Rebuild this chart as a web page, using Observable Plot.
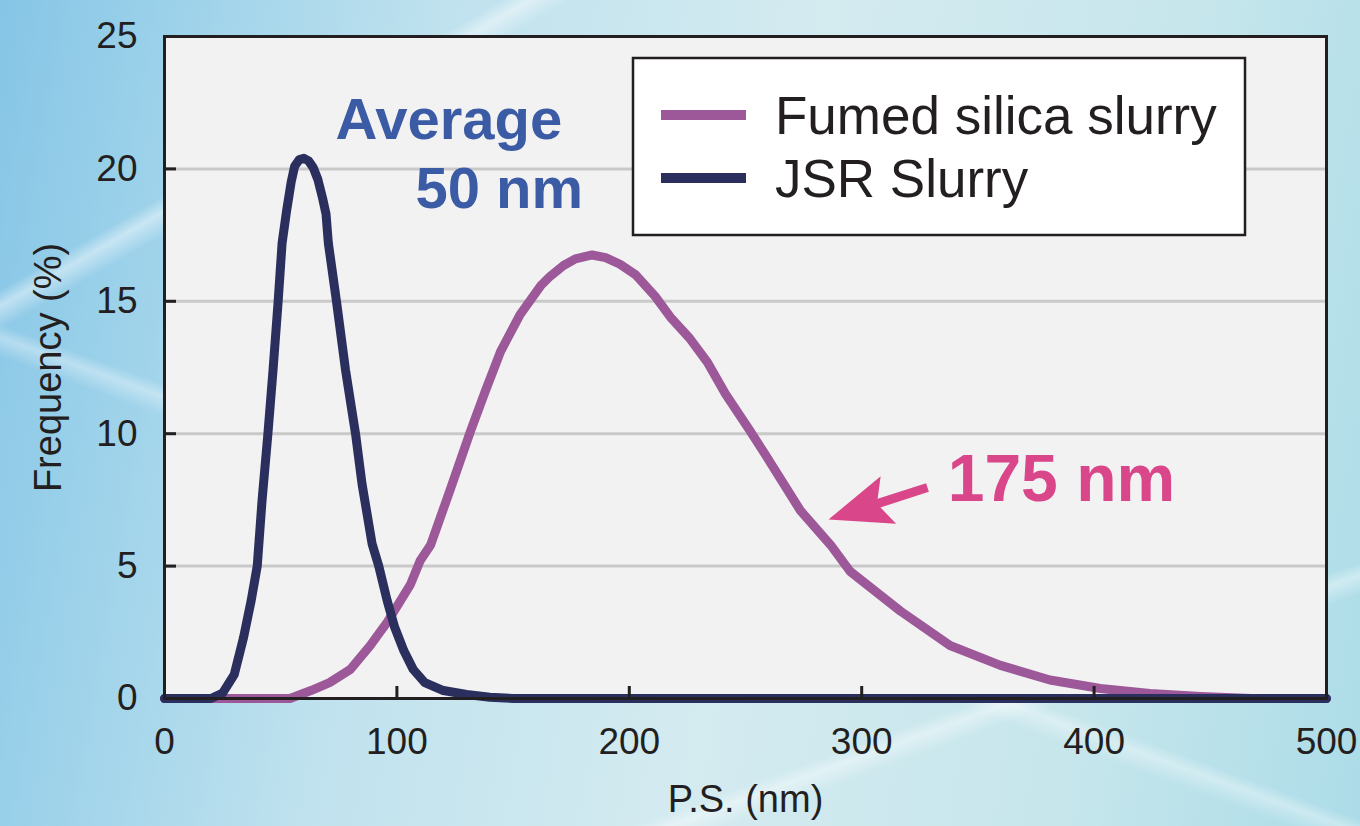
<!DOCTYPE html>
<html>
<head>
<meta charset="utf-8">
<script src="https://cdn.jsdelivr.net/npm/d3@7"></script>
<script src="https://cdn.jsdelivr.net/npm/@observablehq/plot@0.6"></script>
<style>
  html, body { margin: 0; padding: 0; }
  body {
    width: 1360px; height: 826px; overflow: hidden; position: relative;
    font-family: "Liberation Sans", Arial, sans-serif;
    background:
      linear-gradient(150deg, rgba(255,255,255,0) 18%, rgba(255,255,255,0.45) 19%, rgba(255,255,255,0) 20.5%),
      linear-gradient(200deg, rgba(255,255,255,0) 62%, rgba(255,255,255,0.35) 63%, rgba(255,255,255,0) 64.5%),
      linear-gradient(160deg, rgba(255,255,255,0) 80%, rgba(255,255,255,0.4) 81%, rgba(255,255,255,0) 82.5%),
      linear-gradient(100deg, #86c5e6 0%, #9dd2ea 12%, #c0e2ee 30%, #d4ebf0 55%, #c6e6ec 80%, #acdce8 100%);
  }
  #chart { position: absolute; left: 0; top: 0; }
  #legend { position: absolute; left: 0; top: 0; pointer-events: none; }
</style>
</head>
<body>
<div id="chart"></div>
<svg id="legend" width="1360" height="826"></svg>
<script>
// ---- data ----
const xTicks = [0, 100, 200, 300, 400, 500];
const yTicks = [0, 5, 10, 15, 20, 25];
const gridValues = [5, 10, 15, 20];
const xLabel = "P.S. (nm)";
const yLabel = "Frequency (%)";

const seriesNames = ["Fumed silica slurry", "JSR Slurry"];
const seriesColors = ["#9c5898", "#2b2f5e"];

const fumedX = [0, 54, 63, 71, 80, 88.5, 96, 105.8, 110, 114.5, 123, 131.7, 138, 144.6, 153, 162, 166, 171.7, 176.8, 184, 189.8, 196, 202.7, 211, 217.7, 226, 233.6, 241.4, 252, 258.6, 273.6, 286.6, 295, 316.7, 338, 359.7, 381, 402.7, 424, 446, 467.6, 500];
const fumedY = [0, 0, 0.3, 0.6, 1.1, 2.0, 2.9, 4.3, 5.2, 5.8, 7.9, 10.1, 11.6, 13.1, 14.5, 15.6, 15.95, 16.35, 16.6, 16.75, 16.65, 16.4, 16.0, 15.2, 14.4, 13.6, 12.7, 11.5, 10.1, 9.2, 7.1, 5.8, 4.8, 3.3, 2.0, 1.25, 0.7, 0.38, 0.19, 0.08, 0, 0];

const jsrX = [0, 20, 25, 30, 34, 37.3, 39.9, 42, 44.5, 46.7, 48.9, 50.6, 52.5, 54.5, 56, 58, 60, 62, 64, 66, 68, 69.5, 70.5, 74, 77.9, 82.2, 85, 89.3, 92.2, 95.8, 99, 103, 107, 112, 120, 130, 140, 150, 500];
const jsrY = [0, 0, 0.2, 0.9, 2.3, 3.7, 5.0, 7.5, 10.0, 12.4, 15.0, 17.2, 18.4, 19.5, 20.1, 20.35, 20.4, 20.3, 20.05, 19.6, 18.9, 18.3, 17.2, 15.0, 12.4, 10.0, 8.1, 5.85, 5.0, 3.7, 2.7, 1.8, 1.1, 0.6, 0.3, 0.15, 0.05, 0, 0];

const avgText = ["Average", "50 nm"];
const avgX = [73.6, 108];
const avgY = [21.83, 19.22];
const peakText = ["175 nm"];
const peakX = [337];
const peakY = [8.27];
const arrowFrom = [328.3, 7.97];
const arrowTo = [285.7, 6.76];

// ---- build ----
const fumed = fumedX.map((x, i) => ({x, y: fumedY[i]}));
const jsr = jsrX.map((x, i) => ({x, y: jsrY[i]}));
const avg = avgText.map((t, i) => ({t, x: avgX[i], y: avgY[i]}));
const peak = peakText.map((t, i) => ({t, x: peakX[i], y: peakY[i]}));
const arrow = [{x1: arrowFrom[0], y1: arrowFrom[1], x2: arrowTo[0], y2: arrowTo[1]}];

const ink = "#231f20";
const pink = "#d9478a";
const blue = "#3b5ba5";

const stealth = {
  draw(ctx) {
    const L = 63, w = 25, n = 51;
    ctx.moveTo(0, 0);
    ctx.lineTo(w, L);
    ctx.lineTo(0, n);
    ctx.lineTo(-w, L);
    ctx.closePath();
  }
};

const chart = Plot.plot({
  width: 1360,
  height: 826,
  marginLeft: 164,
  marginRight: 34,
  marginTop: 36,
  marginBottom: 128,
  style: {background: "transparent", fontFamily: "'Liberation Sans', Arial, sans-serif", fontSize: "37px", color: ink},
  x: {domain: [0, 500]},
  y: {domain: [0, 25]},
  marks: [
    Plot.frame({fill: "#f2f2f2"}),
    Plot.gridY(gridValues, {stroke: "#c9c9c9", strokeOpacity: 1, strokeWidth: 3}),
    Plot.line(fumed, {x: "x", y: "y", stroke: seriesColors[0], strokeWidth: 9, strokeLinejoin: "round"}),
    Plot.line(jsr, {x: "x", y: "y", stroke: seriesColors[1], strokeWidth: 9, strokeLinejoin: "round"}),
    Plot.frame({stroke: ink, strokeWidth: 3}),
    Plot.axisX(xTicks, {tickSize: -12, tickPadding: 41, strokeWidth: 3, stroke: ink, fill: ink, label: null}),
    Plot.axisY(yTicks, {tickSize: -12, tickPadding: 39, strokeWidth: 3, stroke: ink, fill: ink, label: null}),
    Plot.text([xLabel], {frameAnchor: "bottom", lineAnchor: "middle", textAnchor: "middle", dy: 101, fontSize: 38, fill: ink}),
    Plot.text([yLabel], {frameAnchor: "left", lineAnchor: "middle", textAnchor: "middle", rotate: -90, dx: -116, fontSize: 38, fill: ink}),
    Plot.text(avg, {x: "x", y: "y", text: "t", textAnchor: "start", fontSize: 58, fontWeight: "bold", fill: blue}),
    Plot.text(peak, {x: "x", y: "y", text: "t", textAnchor: "start", fontSize: 66, fontWeight: "bold", fill: pink}),
    Plot.arrow(arrow, {x1: "x1", y1: "y1", x2: "x2", y2: "y2", stroke: pink, strokeWidth: 9, headLength: 0, insetEnd: 45, strokeLinecap: "butt"}),
    Plot.dot(arrow, {x: "x2", y: "y2", symbol: stealth, rotate: -108, fill: pink, stroke: "none"})
  ]
});
document.getElementById("chart").appendChild(chart);

// ---- legend ----
const lg = d3.select("#legend");
lg.append("rect").attr("x", 633).attr("y", 58).attr("width", 612).attr("height", 177)
  .attr("fill", "#ffffff").attr("stroke", ink).attr("stroke-width", 2.5);
const rowY = [115, 178];
seriesNames.forEach((name, i) => {
  lg.append("line").attr("x1", 661).attr("x2", 746).attr("y1", rowY[i]).attr("y2", rowY[i])
    .attr("stroke", seriesColors[i]).attr("stroke-width", 10);
  lg.append("text").attr("x", 775).attr("y", rowY[i] + 19)
    .attr("font-family", "'Liberation Sans', Arial, sans-serif").attr("font-size", 53)
    .attr("fill", ink).text(name);
});
</script>
</body>
</html>
